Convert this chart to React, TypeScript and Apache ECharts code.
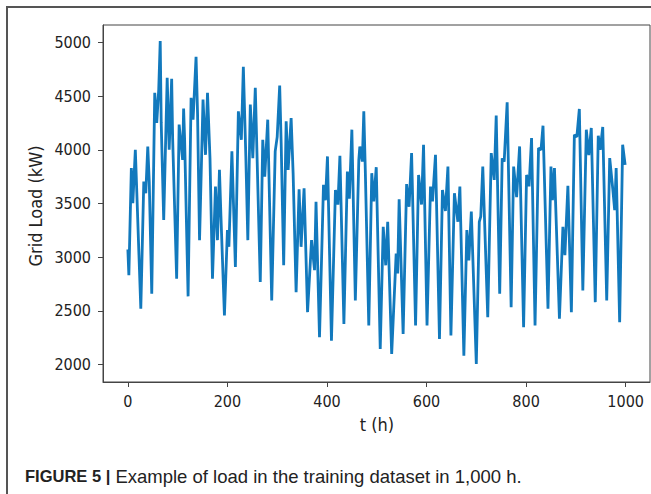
import React, { useEffect, useRef } from "react";
import * as echarts from "echarts";

const hours = [
  0, 2, 7, 10, 15, 18, 26, 32, 36, 40, 43, 48, 54, 58, 62, 65, 67, 72, 79, 83, 88, 90, 98,
  103, 110, 112, 114, 121, 127, 131, 137, 140, 144, 151, 156, 160, 165, 170, 176, 180, 184,
  187, 194, 200, 203, 209, 216, 222, 228, 232, 237, 241, 246, 251, 256, 266, 271, 275, 281,
  289, 296, 300, 305, 308, 313, 318, 322, 328, 332, 338, 344, 348, 354, 361, 369, 375, 378,
  385, 393, 397, 401, 409, 417, 422, 426, 434, 441, 445, 450, 457, 464, 466, 471, 474, 477,
  484, 490, 494, 499, 507, 513, 518, 522, 530, 539, 542, 545, 553, 560, 565, 570, 578, 584,
  590, 594, 601, 608, 612, 618, 626, 632, 638, 643, 649, 656, 663, 667, 675, 681, 685, 690,
  700, 706, 709, 713, 723, 730, 736, 740, 747, 752, 756, 762, 770, 775, 781, 787, 795, 801,
  806, 811, 818, 825, 830, 834, 844, 850, 853, 857, 867, 874, 878, 884, 891, 897, 902, 907,
  914, 921, 926, 931, 939, 945, 949, 954, 962, 968, 974, 978, 981, 988, 994, 999,
];

const loads = [
  3072, 2832, 3829, 3502, 4000, 3600, 2520, 3704, 3595, 4031, 3700, 2660, 4530, 4250, 4560,
  5012, 4250, 3346, 4670, 4000, 4660, 4100, 2800, 4234, 3907, 4383, 4100, 2636, 4483, 4280,
  4866, 4340, 3159, 4467, 3953, 4530, 3920, 2800, 3657, 3159, 3813, 3380, 2458, 3252, 3097,
  3985, 2910, 4358, 4093, 4773, 3938, 3159, 4420, 3922, 4577, 2770, 4093, 3750, 4280, 2598,
  3985, 4120, 4598, 4060, 2925, 4264, 3813, 4296, 3780, 2675, 3632, 3097, 3642, 2489, 3159,
  2879, 3517, 2255, 3673, 3530, 3938, 2224, 3626, 3490, 3944, 2380, 3797, 3545, 4187, 2598,
  3907, 4030, 3890, 4358, 3810, 2364, 3782, 3520, 3838, 2146, 3283, 2925, 3330, 2100, 3034,
  2850, 3539, 2287, 3680, 3470, 3969, 2364, 3766, 3490, 4047, 2364, 3657, 3520, 3953, 2240,
  3626, 3430, 3844, 2271, 3595, 3330, 3657, 2084, 3252, 2970, 3424, 2006, 3330, 3380, 3844,
  2442, 3969, 3720, 4318, 2660, 3920, 3890, 4442, 2535, 3844, 3560, 4031, 2349, 3766, 3660,
  4109, 2364, 4016, 4000, 4224, 2520, 3844, 3530, 3829, 2427, 3283, 3020, 3664, 2489, 4140,
  4120, 4380, 2690, 4187, 3950, 4203, 2582, 4131, 4000, 4212, 2598, 3922, 3642, 3439, 3829,
  2395, 4047, 3860,
];

const xTicks = [0, 200, 400, 600, 800, 1000];
const yTicks = [2000, 2500, 3000, 3500, 4000, 4500, 5000];

const xTitle = "t (h)";
const yTitle = "Grid Load (kW)";
const captionBold = "FIGURE 5 |";
const captionText = " Example of load in the training dataset in 1,000 h.";

const AXIS_FONT = "'DejaVu Sans Condensed', 'DejaVu Sans', sans-serif";
const CAPTION_FONT = "'Liberation Sans', Arial, sans-serif";

export default function App() {
  const ref = useRef<HTMLDivElement>(null);
  useEffect(() => {
    if (!ref.current) return;
    const chart = echarts.init(ref.current, null, { renderer: "svg" });
    const data = hours.map((h, i) => [h, loads[i]]);
    chart.setOption({
      animation: false,
      backgroundColor: "#ffffff",
      grid: {
        left: 103,
        top: 25,
        right: 1,
        bottom: 112,
        show: true,
        borderColor: "#444",
        borderWidth: 1,
        containLabel: false,
      },
      xAxis: {
        type: "value",
        min: -49.95,
        max: 1048.95,
        axisLine: { show: true, onZero: false, lineStyle: { color: "#444", width: 1 } },
        axisTick: { show: true, length: 5, customValues: xTicks, lineStyle: { color: "#444" } },
        axisLabel: {
          customValues: xTicks,
          formatter: (v: number) => String(v),
          color: "#222",
          fontSize: 16,
          fontFamily: AXIS_FONT,
          margin: 11,
        },
        splitLine: { show: false },
      },
      yAxis: {
        type: "value",
        min: 1839,
        max: 5161,
        axisLine: { show: true, onZero: false, lineStyle: { color: "#444", width: 1 } },
        axisTick: { show: true, length: 5, customValues: yTicks, lineStyle: { color: "#444" } },
        axisLabel: {
          customValues: yTicks,
          formatter: (v: number) => String(v),
          color: "#222",
          fontSize: 16,
          fontFamily: AXIS_FONT,
          margin: 12,
        },
        splitLine: { show: false },
      },
      series: [
        {
          type: "line",
          data,
          showSymbol: false,
          symbol: "none",
          lineStyle: { color: "#1279bd", width: 2.8 },
          clip: true,
        },
      ],
      graphic: [
        {
          type: "rect",
          shape: { x: 7, y: 7, width: 700, height: 600 },
          style: { fill: "none", stroke: "#555", lineWidth: 2 },
          silent: true,
        },
        {
          type: "text",
          x: 377,
          y: 424,
          style: {
            text: xTitle,
            fontSize: 18,
            fontFamily: AXIS_FONT,
            fill: "#222",
            align: "center",
            verticalAlign: "middle",
          },
        },
        {
          type: "text",
          x: 35,
          y: 206,
          rotation: Math.PI / 2,
          style: {
            text: yTitle,
            fontSize: 18,
            fontFamily: AXIS_FONT,
            fill: "#222",
            align: "center",
            verticalAlign: "middle",
          },
        },
        {
          type: "text",
          x: 25,
          y: 476,
          style: {
            text: "{b|" + captionBold + "}{r|" + captionText + "}",
            verticalAlign: "middle",
            align: "left",
            rich: {
              b: {
                fontSize: 16.5,
                fontWeight: "bold",
                fontFamily: CAPTION_FONT,
                fill: "#222",
              },
              r: {
                fontSize: 18.5,
                fontFamily: CAPTION_FONT,
                fill: "#222",
              },
            },
          },
        },
      ],
    });
    return () => chart.dispose();
  }, []);
  return (
    <div
      ref={ref}
      style={{ position: "fixed", left: 0, top: 0, width: 651, height: 494, background: "#fff" }}
    />
  );
}
